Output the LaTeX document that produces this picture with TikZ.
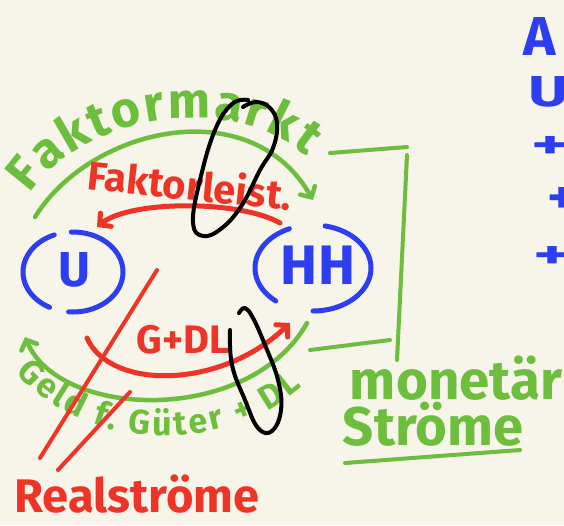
\documentclass[tikz,border=0pt]{standalone}
\usepackage{fontspec}
\setmainfont{Fira Sans}
\usetikzlibrary{arrows.meta,decorations.text}
\definecolor{bg}{HTML}{F7F4EA}
\definecolor{gr}{HTML}{6EBE3E}
\definecolor{rd}{HTML}{EE3426}
\definecolor{bl}{HTML}{2C3EF0}
\begin{document}
\begin{tikzpicture}[x=1pt,y=-1pt,
  gline/.style={draw=gr,line width=4.5pt,line cap=round,line join=round},
  rline/.style={draw=rd,line width=5pt,line cap=round,line join=round},
  bline/.style={draw=bl,line width=5pt,line cap=round},
  kline/.style={draw=black,line width=4pt,line cap=round,line join=round},
  barb/.style={-{Straight Barb[length=8pt,width=17pt,line cap=round]}},
  gtext/.style={text=gr,font=\bfseries,inner sep=0pt},
  rtext/.style={text=rd,font=\bfseries,inner sep=0pt},
  btext/.style={text=bl,font=\bfseries,inner sep=0pt}]
\fill[bg] (0,0) rectangle (564,525);
\useasboundingbox (0,0) rectangle (564,525);
\clip (0,0) rectangle (564,525);

% actors
\node[btext] (u) at (74,270) {\resizebox{!}{34pt}{U}};
\node[btext] (hh) at (318,265) {\resizebox{74pt}{!}{HH}};
\draw[bline] plot[domain=-95:92,samples=40] ({73+50*cos(\x)},{272-40*sin(\x)});
\draw[bline] plot[domain=112:242,samples=30] ({73+50*cos(\x)},{272-40*sin(\x)});
\draw[bline] plot[domain=-90:78,samples=40] ({313+58*cos(\x)},{268-43*sin(\x)});
\draw[bline] plot[domain=114:230,samples=30] ({313+58*cos(\x)},{268-43*sin(\x)});

% coordinates for connector ends
\coordinate (gA1) at (35,217);
\coordinate (gA2) at (313,200);
\coordinate (rA1) at (280,223);
\coordinate (rA2) at (97,227);
\coordinate (rB1) at (87,338);
\coordinate (rB2) at (290,323);
\coordinate (gB1) at (307,323);
\coordinate (gB2) at (25,337);

% flows
\draw[gline,barb] (gA1) .. controls (90,128) and (250,90) .. (gA2);
\draw[rline,barb] (rA1) .. controls (240,200) and (130,200) .. (rA2);
\draw[rline,barb] (rB1) .. controls (110,390) and (220,390) .. (rB2);
\draw[gline,barb] (gB1) .. controls (250,425) and (60,420) .. (gB2);

% labels
\path[decorate,decoration={text along path,text align={fit to path},
  text={|\fontsize{50}{50}\bfseries\color{gr}|Faktormarkt}}]
  (30,194) .. controls (85,112) and (235,92) .. (306,156);
\node[rtext,rotate=-6] (fl) at (190,184) {\resizebox{205pt}{!}{Faktorleist.}};
\node[rtext] (gdl) at (183,340) {\resizebox{93pt}{!}{G+DL}};
\path[decorate,decoration={text along path,text align={fit to path},
  text={|\fontsize{34}{34}\bfseries\color{gr}|Geld f. Güter + DL}}]
  (16,372) .. controls (80,450) and (220,458) .. (302,387);

% black loops
\draw[kline] plot[smooth,tension=0.7] coordinates {(248,100) (232,104) (215,130) (200,180) (193,222) (203,236) (222,228) (242,205) (260,170) (273,148) (277,124) (270,108) (256,102) (243,107)};
\draw[kline] plot[smooth,tension=0.7] coordinates {(230,330) (232,365) (245,400) (258,428) (272,431) (281,410) (278,380) (265,345) (253,318) (245,308) (239,313)};

% real flows
\node[rtext] (real) at (137,494) {\resizebox{245pt}{!}{Realströme}};
\draw[rline,line width=4pt] (157,270) -- (40,458);
\draw[rline,line width=4pt] (130,392) -- (58,470);

% monetary bracket
\draw[gline,line width=4pt] (330,153) -- (407,147);
\draw[gline,line width=4pt] (407,155) -- (397,360);
\draw[gline,line width=4pt] (310,350) -- (390,340);
\node[gtext] (mon) at (456,378) {\resizebox{212pt}{!}{monetär}};
\node[gtext] (str) at (433,424) {\resizebox{180pt}{!}{Ströme}};
\draw[gline,line width=4pt] (345,463) -- (520,450);

% right margin notes (cut off)
\node[btext,anchor=west] (n1) at (523,36) {\resizebox{!}{38pt}{A}};
\node[btext,anchor=west] (n2) at (528,92) {\resizebox{40pt}{30pt}{U}};
\node[btext,anchor=west] (n3) at (531,147) {\resizebox{38pt}{22pt}{+}};
\node[btext,anchor=west] (n4) at (547,200) {\resizebox{30pt}{26pt}{+}};
\node[btext,anchor=west] (n5) at (533,257) {\resizebox{38pt}{22pt}{+}};
\end{tikzpicture}
\end{document}
